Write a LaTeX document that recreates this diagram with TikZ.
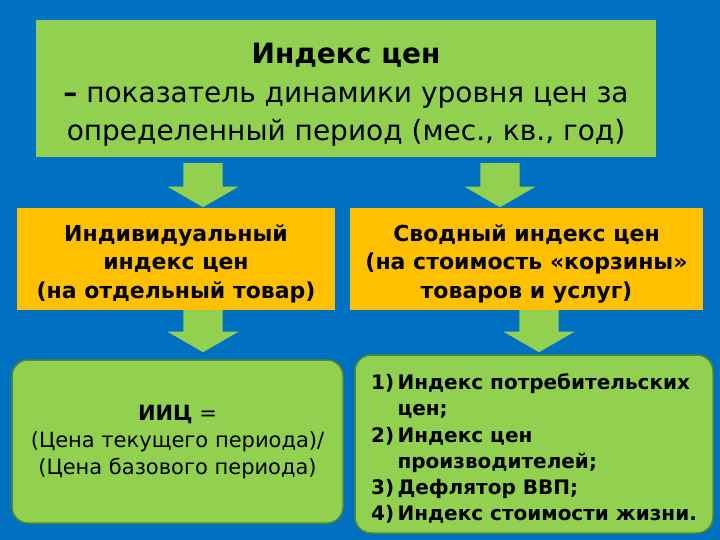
\documentclass[tikz,border=0pt]{standalone}
\usepackage{fontspec}
\setmainfont{DejaVu Sans}
\usetikzlibrary{positioning,shapes.arrows}
\definecolor{bgblue}{RGB}{0,112,192}
\definecolor{boxgreen}{RGB}{146,208,80}
\definecolor{boxorange}{RGB}{255,192,0}
\definecolor{edgegreen}{RGB}{78,140,48}
% lower a block of lines without changing the node size
\newcommand{\lowerlines}[3]{\raisebox{-#1}[\height][\depth]{\begin{tabular}{@{}#2@{}}#3\end{tabular}}}

\begin{document}
\begin{tikzpicture}[x=1pt, y=-1pt,
    topbox/.style={rectangle, fill=boxgreen, inner sep=0pt, minimum width=620pt, minimum height=137pt, font=\fontsize{28}{38.5}\selectfont},
    kindbox/.style={rectangle, fill=boxorange, inner sep=0pt, minimum height=102pt, font=\bfseries\fontsize{22}{28.5}\selectfont},
    resultbox/.style={rectangle, rounded corners=16pt, fill=boxgreen, draw=edgegreen, line width=1.5pt, inner sep=0pt},
    blockarrow/.style={single arrow, fill=boxgreen, rotate=-90, anchor=tail, inner xsep=0pt, inner ysep=19.5pt, single arrow head extend=16pt, single arrow tip angle=120}]
    % Background
    \fill[bgblue] (0,0) rectangle (720,540);
    \useasboundingbox (0,0) rectangle (720,540);

    % Definition
    \node[topbox] (def) at (346,88.5) {\lowerlines{6pt}{c}{\textbf{Индекс цен}\\\textbf{–} показатель динамики уровня цен за\\определенный период (мес., кв., год)}};

    % Kinds of index
    \node[kindbox, minimum width=318pt] (indiv) at (176,259) {\lowerlines{5pt}{c}{Индивидуальный\\индекс цен\\(на отдельный товар)}};
    \node[kindbox, minimum width=353pt] (total) at (526.5,259) {\lowerlines{5pt}{c}{Сводный индекс цен\\(на стоимость «корзины»\\товаров и услуг)}};

    % Arrows
    \node[blockarrow, minimum height=44pt] (arrowA) at (203,163) {};
    \node[blockarrow, minimum height=44pt] (arrowB) at (500,163) {};
    \node[blockarrow, minimum height=42pt] (arrowC) at (203,310) {};
    \node[blockarrow, minimum height=42pt] (arrowD) at (539,310) {};

    % Results
    \node[resultbox, minimum width=331pt, minimum height=163pt, font=\fontsize{21}{27}\selectfont] (formula) at (177.5,441.5) {\lowerlines{1pt}{c}{\textbf{ИИЦ} =\\(Цена текущего периода)/\\(Цена базового периода)}};
    \node[resultbox, minimum width=358pt, minimum height=178pt, font=\bfseries\fontsize{20}{26.2}\selectfont] (list) at (534,444) {%
        \lowerlines{6pt}{r@{\,}l}{
        1) & Индекс потребительских\\
           & цен;\\
        2) & Индекс цен\\
           & производителей;\\
        3) & Дефлятор ВВП;\\
        4) & Индекс стоимости жизни.}};
\end{tikzpicture}
\end{document}
